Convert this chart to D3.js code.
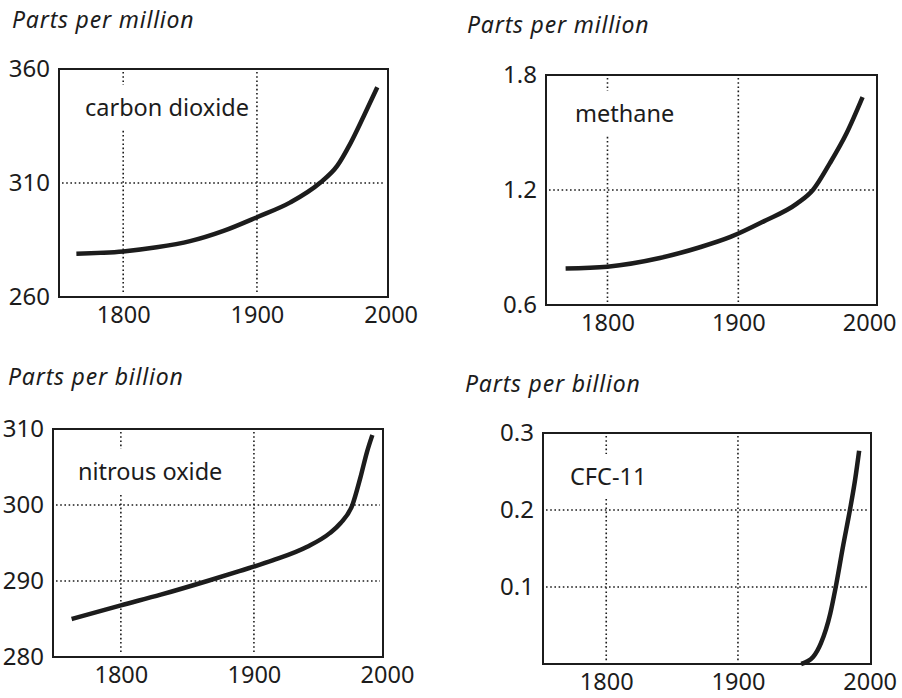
<!DOCTYPE html>
<html>
<head>
<meta charset="utf-8">
<script src="https://cdn.jsdelivr.net/npm/d3@7"></script>
<style>
  html, body { margin: 0; padding: 0; background: #fff; }
  svg { display: block; }
</style>
</head>
<body>
<svg id="chart" width="902" height="698"></svg>
<script>
// ---------------- DATA ----------------
const gasNames = ["carbon dioxide", "methane", "nitrous oxide", "CFC-11"];
const unitTitles = ["Parts per million", "Parts per million", "Parts per billion", "Parts per billion"];

const xTickYears = [1800, 1900, 2000];
const xGridYears = [1800, 1900];

const co2Years   = [1765, 1800, 1825, 1850, 1875, 1900, 1925, 1947, 1960, 1970, 1980, 1990];
const co2Values  = [279, 280, 281.8, 284.5, 289, 295, 301.5, 310, 317.5, 327.5, 339.5, 352];

const ch4Years   = [1768, 1800, 1840, 1870, 1894, 1919, 1945, 1957, 1970, 1983, 1995];
const ch4Values  = [0.79, 0.80, 0.845, 0.90, 0.955, 1.035, 1.13, 1.20, 1.34, 1.50, 1.685];

const n2oYears   = [1763, 1800, 1830, 1865, 1889, 1914, 1940, 1957, 1965, 1974, 1980, 1985, 1989];
const n2oValues  = [285, 286.8, 288.2, 290, 291.3, 292.7, 294.5, 296.3, 297.6, 300, 303.6, 307, 309.2];

const cfcYears   = [1948, 1957, 1963, 1970, 1974, 1980, 1985, 1989, 1992];
const cfcValues  = [0, 0.009, 0.027, 0.065, 0.098, 0.155, 0.20, 0.24, 0.277];

const co2YTicks = [260, 310, 360];
const ch4YTicks = [0.6, 1.2, 1.8];
const n2oYTicks = [280, 290, 300, 310];
const cfcYTicks = [0.1, 0.2, 0.3];

const co2YGrid = [310];
const ch4YGrid = [1.2];
const n2oYGrid = [290, 300];
const cfcYGrid = [0.1, 0.2];

const co2YDomain = [260, 360];
const ch4YDomain = [0.6, 1.8];
const n2oYDomain = [280, 310];
const cfcYDomain = [0, 0.3];

const co2XDomain = [1752, 1998];
const ch4XDomain = [1753, 2006];
const n2oXDomain = [1749, 1997];
const cfcXDomain = [1752, 2001];

// ---------------- LAYOUT ----------------
const frames = [
  { left: 59,  top: 69,  right: 388, bottom: 297, titleX: 12,  titleY: 28,  labelX: 85,  labelY: 116 },
  { left: 546, top: 75,  right: 877, bottom: 305, titleX: 467, titleY: 33,  labelX: 575, labelY: 122 },
  { left: 53,  top: 429, right: 383, bottom: 657, titleX: 8,   titleY: 385, labelX: 78,  labelY: 480 },
  { left: 543, top: 433, right: 871, bottom: 664, titleX: 465, titleY: 392, labelX: 570, labelY: 485 }
];

const panels = [
  { years: co2Years, values: co2Values, yTicks: co2YTicks, yGrid: co2YGrid, yDomain: co2YDomain, xDomain: co2XDomain },
  { years: ch4Years, values: ch4Values, yTicks: ch4YTicks, yGrid: ch4YGrid, yDomain: ch4YDomain, xDomain: ch4XDomain },
  { years: n2oYears, values: n2oValues, yTicks: n2oYTicks, yGrid: n2oYGrid, yDomain: n2oYDomain, xDomain: n2oXDomain },
  { years: cfcYears, values: cfcValues, yTicks: cfcYTicks, yGrid: cfcYGrid, yDomain: cfcYDomain, xDomain: cfcXDomain }
];

const FONT = "'Noto Sans', 'Open Sans', sans-serif";
const INK = "#1c1c1c";

const svg = d3.select("#chart");

panels.forEach((p, i) => {
  const f = frames[i];
  const x = d3.scaleLinear().domain(p.xDomain).range([f.left, f.right]);
  const y = d3.scaleLinear().domain(p.yDomain).range([f.bottom, f.top]);
  const g = svg.append("g");

  // title
  g.append("text")
    .attr("x", f.titleX).attr("y", f.titleY)
    .attr("font-family", FONT).attr("font-style", "italic")
    .attr("font-size", 23).attr("letter-spacing", 0.8)
    .attr("fill", INK)
    .text(unitTitles[i]);

  // grid lines (dotted)
  const grid = g.append("g")
    .attr("stroke", INK).attr("stroke-width", 1.6)
    .attr("stroke-dasharray", "1.6 2.6").attr("fill", "none");
  grid.selectAll("line.v").data(xGridYears).join("line")
    .attr("class", "v")
    .attr("x1", d => x(d)).attr("x2", d => x(d))
    .attr("y1", f.top + 3).attr("y2", f.bottom - 3);
  grid.selectAll("line.h").data(p.yGrid).join("line")
    .attr("class", "h")
    .attr("x1", f.left + 3).attr("x2", f.right - 3)
    .attr("y1", d => y(d)).attr("y2", d => y(d));

  // gas label with white backing
  const backing = g.append("rect").attr("fill", "#fff");
  const lbl = g.append("text")
    .attr("x", f.labelX).attr("y", f.labelY)
    .attr("font-family", FONT).attr("font-size", 23.5)
    .attr("fill", INK)
    .text(gasNames[i]);
  const bb = lbl.node().getBBox();
  backing
    .attr("x", bb.x - 4).attr("y", bb.y - 6)
    .attr("width", bb.width + 8).attr("height", bb.height + 12);

  // frame
  g.append("rect")
    .attr("x", f.left).attr("y", f.top)
    .attr("width", f.right - f.left).attr("height", f.bottom - f.top)
    .attr("fill", "none").attr("stroke", INK).attr("stroke-width", 2);

  // y axis labels
  const yAxis = d3.axisLeft(y).tickValues(p.yTicks).tickSize(0).tickPadding(9)
    .tickFormat(d => String(d));
  const ya = g.append("g").attr("transform", `translate(${f.left},0)`).call(yAxis);
  ya.select(".domain").remove();
  ya.selectAll("text").attr("font-family", FONT).attr("font-size", 24).attr("fill", INK);

  // x axis labels
  const xAxis = d3.axisBottom(x).tickValues(xTickYears).tickSize(0).tickPadding(9)
    .tickFormat(d3.format("d"));
  const xa = g.append("g").attr("transform", `translate(0,${f.bottom})`).call(xAxis);
  xa.select(".domain").remove();
  xa.selectAll("text").attr("font-family", FONT).attr("font-size", 23.5).attr("fill", INK);

  // curve
  const pts = p.years.map((yr, k) => [yr, p.values[k]]);
  const line = d3.line().x(d => x(d[0])).y(d => y(d[1])).curve(d3.curveMonotoneX);
  g.append("path")
    .datum(pts)
    .attr("d", line)
    .attr("fill", "none").attr("stroke", INK)
    .attr("stroke-width", 4.5).attr("stroke-linecap", "butt").attr("stroke-linejoin", "round");
});
</script>
</body>
</html>
